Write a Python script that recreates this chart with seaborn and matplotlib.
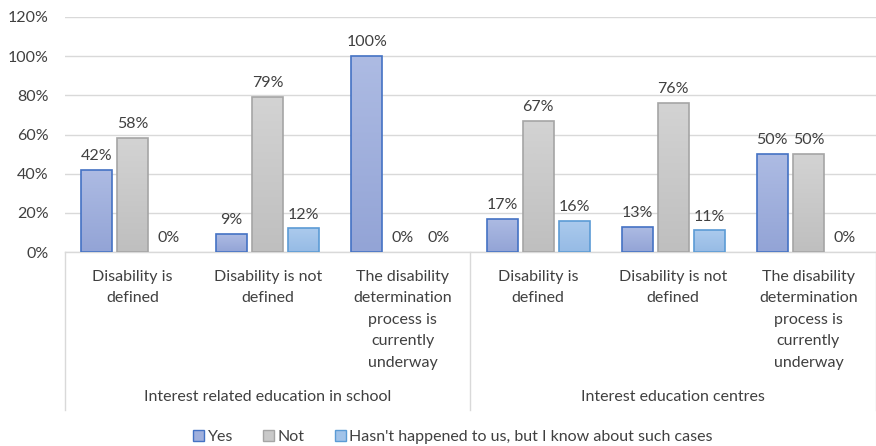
import numpy as np
import pandas as pd
import matplotlib
matplotlib.use("Agg")
import matplotlib.pyplot as plt
import seaborn as sns
from matplotlib.colors import LinearSegmentedColormap
from matplotlib.patches import Patch
from matplotlib.lines import Line2D

# ---- data ----
categories = ["Disability is\ndefined", "Disability is not\ndefined",
              "The disability\ndetermination\nprocess is\ncurrently\nunderway",
              "Disability is\ndefined", "Disability is not\ndefined",
              "The disability\ndetermination\nprocess is\ncurrently\nunderway"]
groups = ["Interest related education in school", "Interest education centres"]
series = ["Yes", "Not", "Hasn't happened to us, but I know about such cases"]
yes_vals = [42, 9, 100, 17, 13, 50]
not_vals = [58, 79, 0, 67, 76, 50]
hasnt_vals = [0, 12, 0, 16, 11, 0]
y_ticks = [0, 20, 40, 60, 80, 100, 120]

ids = [f"c{i}" for i in range(len(categories))]
df = pd.DataFrame({
    "cat": ids * 3,
    "series": [series[0]] * 6 + [series[1]] * 6 + [series[2]] * 6,
    "value": yes_vals + not_vals + hasnt_vals,
})

top_cols = ["#adbbe3", "#d3d3d3", "#abcaed"]
bot_cols = ["#93a4d6", "#bfbfbf", "#96bbe5"]
edge_cols = ["#4472c4", "#a5a5a5", "#5b9bd5"]
mid_cols = ["#a0b0dd", "#c9c9c9", "#a1c3e9"]

text_col = "#404040"
plt.rcParams['font.family'] = ['Lato', 'DejaVu Sans']
fs = 11.5

fig = plt.figure(figsize=(8.76, 4.46), dpi=100)
ax = fig.add_axes([65 / 876, 1 - 252 / 446, 811 / 876, 235 / 446])

sns.barplot(data=df, x="cat", y="value", hue="series", order=ids,
            hue_order=series, palette=mid_cols, width=0.8, gap=0.14,
            ax=ax, legend=False, saturation=1)

# gradient fills + edges + labels
for ci, cont in enumerate(ax.containers):
    cmap = LinearSegmentedColormap.from_list(f"g{ci}", [bot_cols[ci], top_cols[ci]])
    for p in cont.patches:
        h = p.get_height()
        p.set_facecolor("none")
        p.set_edgecolor(edge_cols[ci])
        p.set_linewidth(1.2 if h > 0 else 0)
        p.set_zorder(3)
        if h > 0:
            x0 = p.get_x(); w = p.get_width()
            grad = np.linspace(0, 1, 100).reshape(-1, 1)
            im = ax.imshow(grad, cmap=cmap, origin="lower", aspect="auto",
                           extent=[x0, x0 + w, 0, h], zorder=2.5,
                           interpolation="bilinear")
            im.set_clip_path(p)
    ax.bar_label(cont, labels=[f"{v:.0f}%" for v in cont.datavalues],
                 padding=5, fontsize=fs, color=text_col)

ax.set_xlim(-0.5, 5.5)
ax.set_ylim(0, 120)
ax.set_yticks(y_ticks)
ax.set_yticklabels([f"{v}%" for v in y_ticks], fontsize=fs, color=text_col)
ax.tick_params(axis="y", length=0, pad=12)
ax.yaxis.grid(True, color="#d9d9d9", linewidth=1)
ax.set_axisbelow(True)
ax.set_xticks([])
ax.set_xlabel("")
ax.set_ylabel("")
for s in ["left", "right", "top"]:
    ax.spines[s].set_visible(False)
ax.spines["bottom"].set_color("#d9d9d9")
ax.spines["bottom"].set_linewidth(1)

# multi-level category axis
tr = ax.get_xaxis_transform()
for i, lab in enumerate(categories):
    ax.text(i, -0.075, lab, transform=tr, ha="center", va="top",
            fontsize=fs, color=text_col, linespacing=1.68)
for gi, g in enumerate(groups):
    ax.text(gi * 3 + 1, -0.617, g, transform=tr, ha="center", va="center",
            fontsize=fs, color=text_col)
for xv in [-0.5, 2.5, 5.5]:
    ax.add_line(Line2D([xv, xv], [0, -0.672], transform=tr, color="#d9d9d9",
                       linewidth=1, clip_on=False))

handles = [Patch(facecolor=mid_cols[i], edgecolor=edge_cols[i], linewidth=1)
           for i in range(3)]
fig.legend(handles, series, loc="center", bbox_to_anchor=(453 / 876, 1 - 437 / 446),
           ncol=3, frameon=False, fontsize=fs, handlelength=0.7,
           handleheight=0.7, handletextpad=0.2, columnspacing=1.9,
           labelcolor=text_col)

fig.savefig("out.png", dpi=100)
